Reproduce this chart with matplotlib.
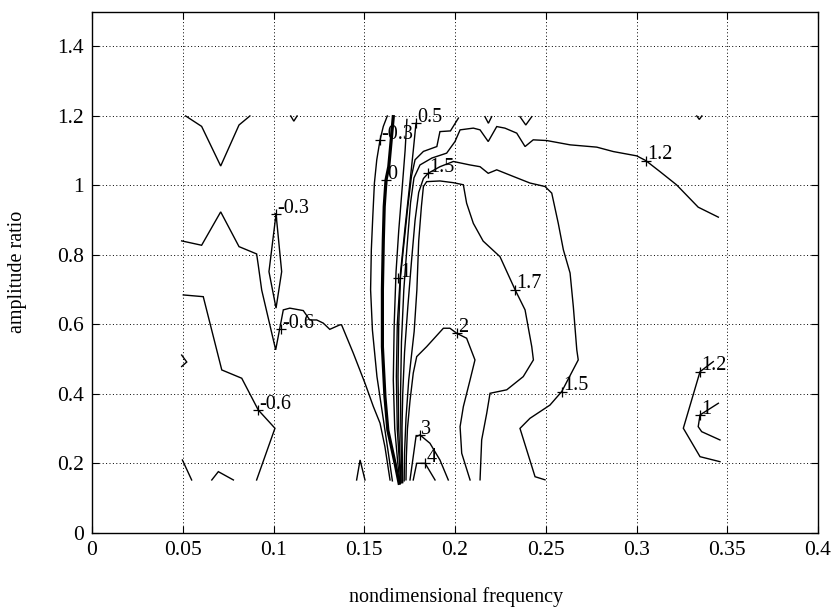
import matplotlib
matplotlib.use("Agg")
import matplotlib.pyplot as plt

plt.rcParams['font.family'] = ['Liberation Serif', 'DejaVu Serif']

# ---- tick values ----
xticks = [0, 0.05, 0.1, 0.15, 0.2, 0.25, 0.3, 0.35, 0.4]
xticklabels = ['0', '0.05', '0.1', '0.15', '0.2', '0.25', '0.3', '0.35', '0.4']
yticks = [0, 0.2, 0.4, 0.6, 0.8, 1.0, 1.2, 1.4]
yticklabels = ['0', '0.2', '0.4', '0.6', '0.8', '1', '1.2', '1.4']

# ---- contour lines ----
v1_x = [0.0516, 0.0604, 0.0709, 0.0810, 0.0870]
v1_y = [1.200, 1.170, 1.056, 1.174, 1.200]
v2_x = [0.1095, 0.1112, 0.1130]
v2_y = [1.200, 1.185, 1.200]
v3_x = [0.2165, 0.2184, 0.2202]
v3_y = [1.198, 1.179, 1.198]
v4_x = [0.2358, 0.2390, 0.2423]
v4_y = [1.198, 1.174, 1.198]
v5_x = [0.3332, 0.3346, 0.3360]
v5_y = [1.200, 1.190, 1.200]

m03_x = [0.0494, 0.0604, 0.0709, 0.0810, 0.0907, 0.0916, 0.0935, 0.1012, 0.1054,
         0.1090, 0.1164, 0.1200, 0.1238, 0.1274, 0.1310, 0.1366, 0.1375, 0.1440,
         0.1504, 0.1550, 0.1587, 0.1614, 0.1642]
m03_y = [0.8405, 0.828, 0.924, 0.824, 0.803, 0.771, 0.699, 0.527, 0.642,
         0.647, 0.640, 0.613, 0.613, 0.604, 0.586, 0.599, 0.599, 0.517,
         0.431, 0.364, 0.316, 0.248, 0.1526]
spike_x = [0.1014, 0.0975, 0.1014, 0.1045, 0.1014]
spike_y = [0.918, 0.752, 0.647, 0.752, 0.918]
m06_x = [0.0503, 0.0613, 0.0715, 0.0825, 0.0916, 0.1008, 0.0907]
m06_y = [0.685, 0.680, 0.4692, 0.4453, 0.354, 0.3014, 0.1526]
arc_x = [0.0494, 0.0522, 0.0494]
arc_y = [0.512, 0.492, 0.479]
bl_x = [0.0498, 0.0549]
bl_y = [0.2101, 0.1526]
caret1_x = [0.0660, 0.0696, 0.0779]
caret1_y = [0.1526, 0.1765, 0.1526]
caret2_x = [0.1458, 0.1477, 0.1504]
caret2_y = [0.1526, 0.2101, 0.1526]

a_x = [0.1627, 0.1605, 0.1587, 0.1569, 0.1556, 0.1547, 0.1539, 0.1535, 0.1545,
       0.1570, 0.1600, 0.1630, 0.1655]
a_y = [1.200, 1.170, 1.131, 1.074, 1.007, 0.910, 0.815, 0.700, 0.584,
       0.450, 0.345, 0.240, 0.150]
b_x = [0.1660, 0.1647, 0.1635, 0.1620, 0.1610, 0.1605, 0.1600, 0.1600, 0.1614,
       0.1630, 0.1670, 0.1692]
b_y = [1.198, 1.122, 1.054, 1.016, 0.939, 0.843, 0.700, 0.536, 0.392,
       0.296, 0.200, 0.143]
c_x = [0.1735, 0.1725, 0.1710, 0.1690, 0.1675, 0.1665, 0.1660, 0.1668, 0.1685, 0.1697]
c_y = [1.190, 1.100, 1.000, 0.870, 0.750, 0.600, 0.440, 0.300, 0.200, 0.143]
d_x = [0.1785, 0.1770, 0.1750, 0.1725, 0.1700, 0.1682, 0.1677, 0.1682, 0.1694, 0.1700]
d_y = [1.179, 1.100, 1.000, 0.880, 0.750, 0.600, 0.450, 0.300, 0.200, 0.143]
e_x = [0.2019, 0.1975, 0.1917, 0.1900, 0.1826, 0.1780, 0.1760, 0.1740, 0.1715,
       0.1700, 0.1690, 0.1686, 0.1690, 0.1698, 0.1703]
e_y = [1.194, 1.157, 1.155, 1.112, 1.098, 1.074, 1.026, 0.939, 0.815,
       0.738, 0.600, 0.450, 0.300, 0.200, 0.145]
f_x = [0.3451, 0.3340, 0.3221, 0.3129, 0.3051, 0.3001, 0.2872, 0.2781, 0.2634,
       0.2505, 0.2431, 0.2386, 0.2340, 0.2275, 0.2230, 0.2183, 0.2138, 0.2101,
       0.2028, 0.2000, 0.1954, 0.1873, 0.1807, 0.1774, 0.1755, 0.1735, 0.1718,
       0.1705, 0.1700, 0.1702, 0.1706, 0.1708]
f_y = [0.9088, 0.9375, 1.0017, 1.0400, 1.0717, 1.0852, 1.0976, 1.1103, 1.1169,
       1.1293, 1.1313, 1.1120, 1.1506, 1.1650, 1.1695, 1.1264, 1.1600, 1.1650,
       1.1600, 1.1264, 1.0930, 1.0790, 1.0590, 1.0220, 0.950, 0.820, 0.700,
       0.550, 0.400, 0.280, 0.200, 0.145]
g_x = [0.1712, 0.1710, 0.1708, 0.1712, 0.1722, 0.1740, 0.1760, 0.1780, 0.1800,
       0.1826, 0.1853, 0.1917, 0.1991, 0.2083, 0.2138, 0.2183, 0.2230, 0.2321,
       0.2413, 0.2496, 0.2533, 0.2569, 0.2597, 0.2634, 0.2652, 0.2671, 0.2679,
       0.2588, 0.2523, 0.2413, 0.2358, 0.2441, 0.2496]
g_y = [0.145, 0.200, 0.300, 0.400, 0.520, 0.650, 0.780, 0.900, 0.980,
       1.020, 1.0354, 1.054, 1.069, 1.059, 1.054, 1.035, 1.045, 1.026,
       1.007, 0.997, 0.978, 0.891, 0.815, 0.748, 0.651, 0.527, 0.498,
       0.407, 0.368, 0.330, 0.301, 0.162, 0.153]
h_x = [0.1720, 0.1722, 0.1730, 0.1745, 0.1775, 0.1790, 0.1800, 0.1815, 0.1826,
       0.1844, 0.1917, 0.1991, 0.2046, 0.2064, 0.2101, 0.2155, 0.2248, 0.2331,
       0.2386, 0.2423, 0.2432, 0.2376, 0.2285, 0.2193, 0.2175, 0.2147, 0.2138]
h_y = [0.150, 0.230, 0.330, 0.440, 0.580, 0.700, 0.840, 0.940, 0.997,
       1.011, 1.013, 1.008, 1.002, 0.949, 0.891, 0.840, 0.795, 0.700,
       0.642, 0.536, 0.498, 0.450, 0.412, 0.402, 0.345, 0.268, 0.153]
two_x = [0.1730, 0.1732, 0.1738, 0.1752, 0.1770, 0.1789, 0.1844, 0.1936, 0.1972,
         0.2009, 0.2064, 0.2110, 0.2083, 0.2046, 0.2028, 0.2037, 0.2083]
two_y = [0.153, 0.220, 0.300, 0.380, 0.460, 0.5075, 0.5363, 0.5892, 0.5892,
         0.5748, 0.5604, 0.498, 0.4404, 0.3636, 0.306, 0.2294, 0.1526]
three_x = [0.1752, 0.1785, 0.1807, 0.1862, 0.1917, 0.1963]
three_y = [0.1526, 0.2772, 0.2821, 0.2582, 0.2101, 0.1526]
four_x = [0.1770, 0.1789, 0.1835, 0.1890]
four_y = [0.1526, 0.2006, 0.2006, 0.1526]
r12_x = [0.3460, 0.3350, 0.3258, 0.3350, 0.3423]
r12_y = [0.2052, 0.2196, 0.3014, 0.4643, 0.4931]
r1_x = [0.3460, 0.3359, 0.3340, 0.3350, 0.3451]
r1_y = [0.2677, 0.2916, 0.3060, 0.3397, 0.3733]

# ---- contour labels ----
lab_x = [0.1014, 0.1040, 0.0916, 0.1587, 0.1620, 0.1785, 0.1688, 0.1853,
         0.3051, 0.2331, 0.2009, 0.2588, 0.3350, 0.3350, 0.1807, 0.1835]
lab_y = [0.918, 0.586, 0.354, 1.131, 1.016, 1.179, 0.733, 1.0354,
         1.0717, 0.700, 0.575, 0.407, 0.4643, 0.3397, 0.2821, 0.2006]
lab_t = ['-0.3', '-0.6', '-0.6', '-0.3', '0', '0.5', '1', '1.5',
         '1.2', '1.7', '2', '1.5', '1.2', '1', '3', '4']

fig = plt.figure(figsize=(8.35, 6.07), dpi=100)
ax = fig.add_axes([92 / 835, 1 - 533 / 607, 726 / 835, (533 - 11.7) / 607])

thin = [(v1_x, v1_y), (v2_x, v2_y), (v3_x, v3_y), (v4_x, v4_y), (v5_x, v5_y),
        (m03_x, m03_y), (spike_x, spike_y), (m06_x, m06_y), (arc_x, arc_y),
        (bl_x, bl_y), (caret1_x, caret1_y), (caret2_x, caret2_y),
        (a_x, a_y), (c_x, c_y), (d_x, d_y), (e_x, e_y), (f_x, f_y),
        (g_x, g_y), (h_x, h_y), (two_x, two_y), (three_x, three_y),
        (four_x, four_y), (r12_x, r12_y), (r1_x, r1_y)]
for xs, ys in thin:
    ax.plot(xs, ys, color='black', lw=1.0, solid_joinstyle='miter')
ax.plot(b_x, b_y, color='black', lw=2.3)

for x, y, t in zip(lab_x, lab_y, lab_t):
    ax.plot([x], [y], marker='+', color='black', ms=7, mew=0.9)
    ax.annotate(t, (x, y), xytext=(1, 1), textcoords='offset points',
                ha='left', va='baseline', fontsize=14.5, color='black')

ax.set_xlim(0, 0.4)
ax.set_ylim(0, 1.5)
ax.set_xticks(xticks)
ax.set_xticklabels(xticklabels)
ax.set_yticks(yticks)
ax.set_yticklabels(yticklabels)
ax.tick_params(direction='in', length=5, width=0.8, top=True, right=True,
               labelsize=15.5, pad=6, colors='black')
ax.grid(True, color='black', linestyle=(0, (1, 2.5)), linewidth=0.7)
for s in ax.spines.values():
    s.set_linewidth(1.0)

fig.text(456 / 835, 1 - 597 / 607, 'nondimensional frequency', ha='center',
         va='center', fontsize=14.5)
fig.text(18 / 835, 1 - 272 / 607, 'amplitude ratio', ha='center', va='center',
         rotation=90, fontsize=14.5)

fig.savefig('out.png', dpi=100, facecolor='white')
